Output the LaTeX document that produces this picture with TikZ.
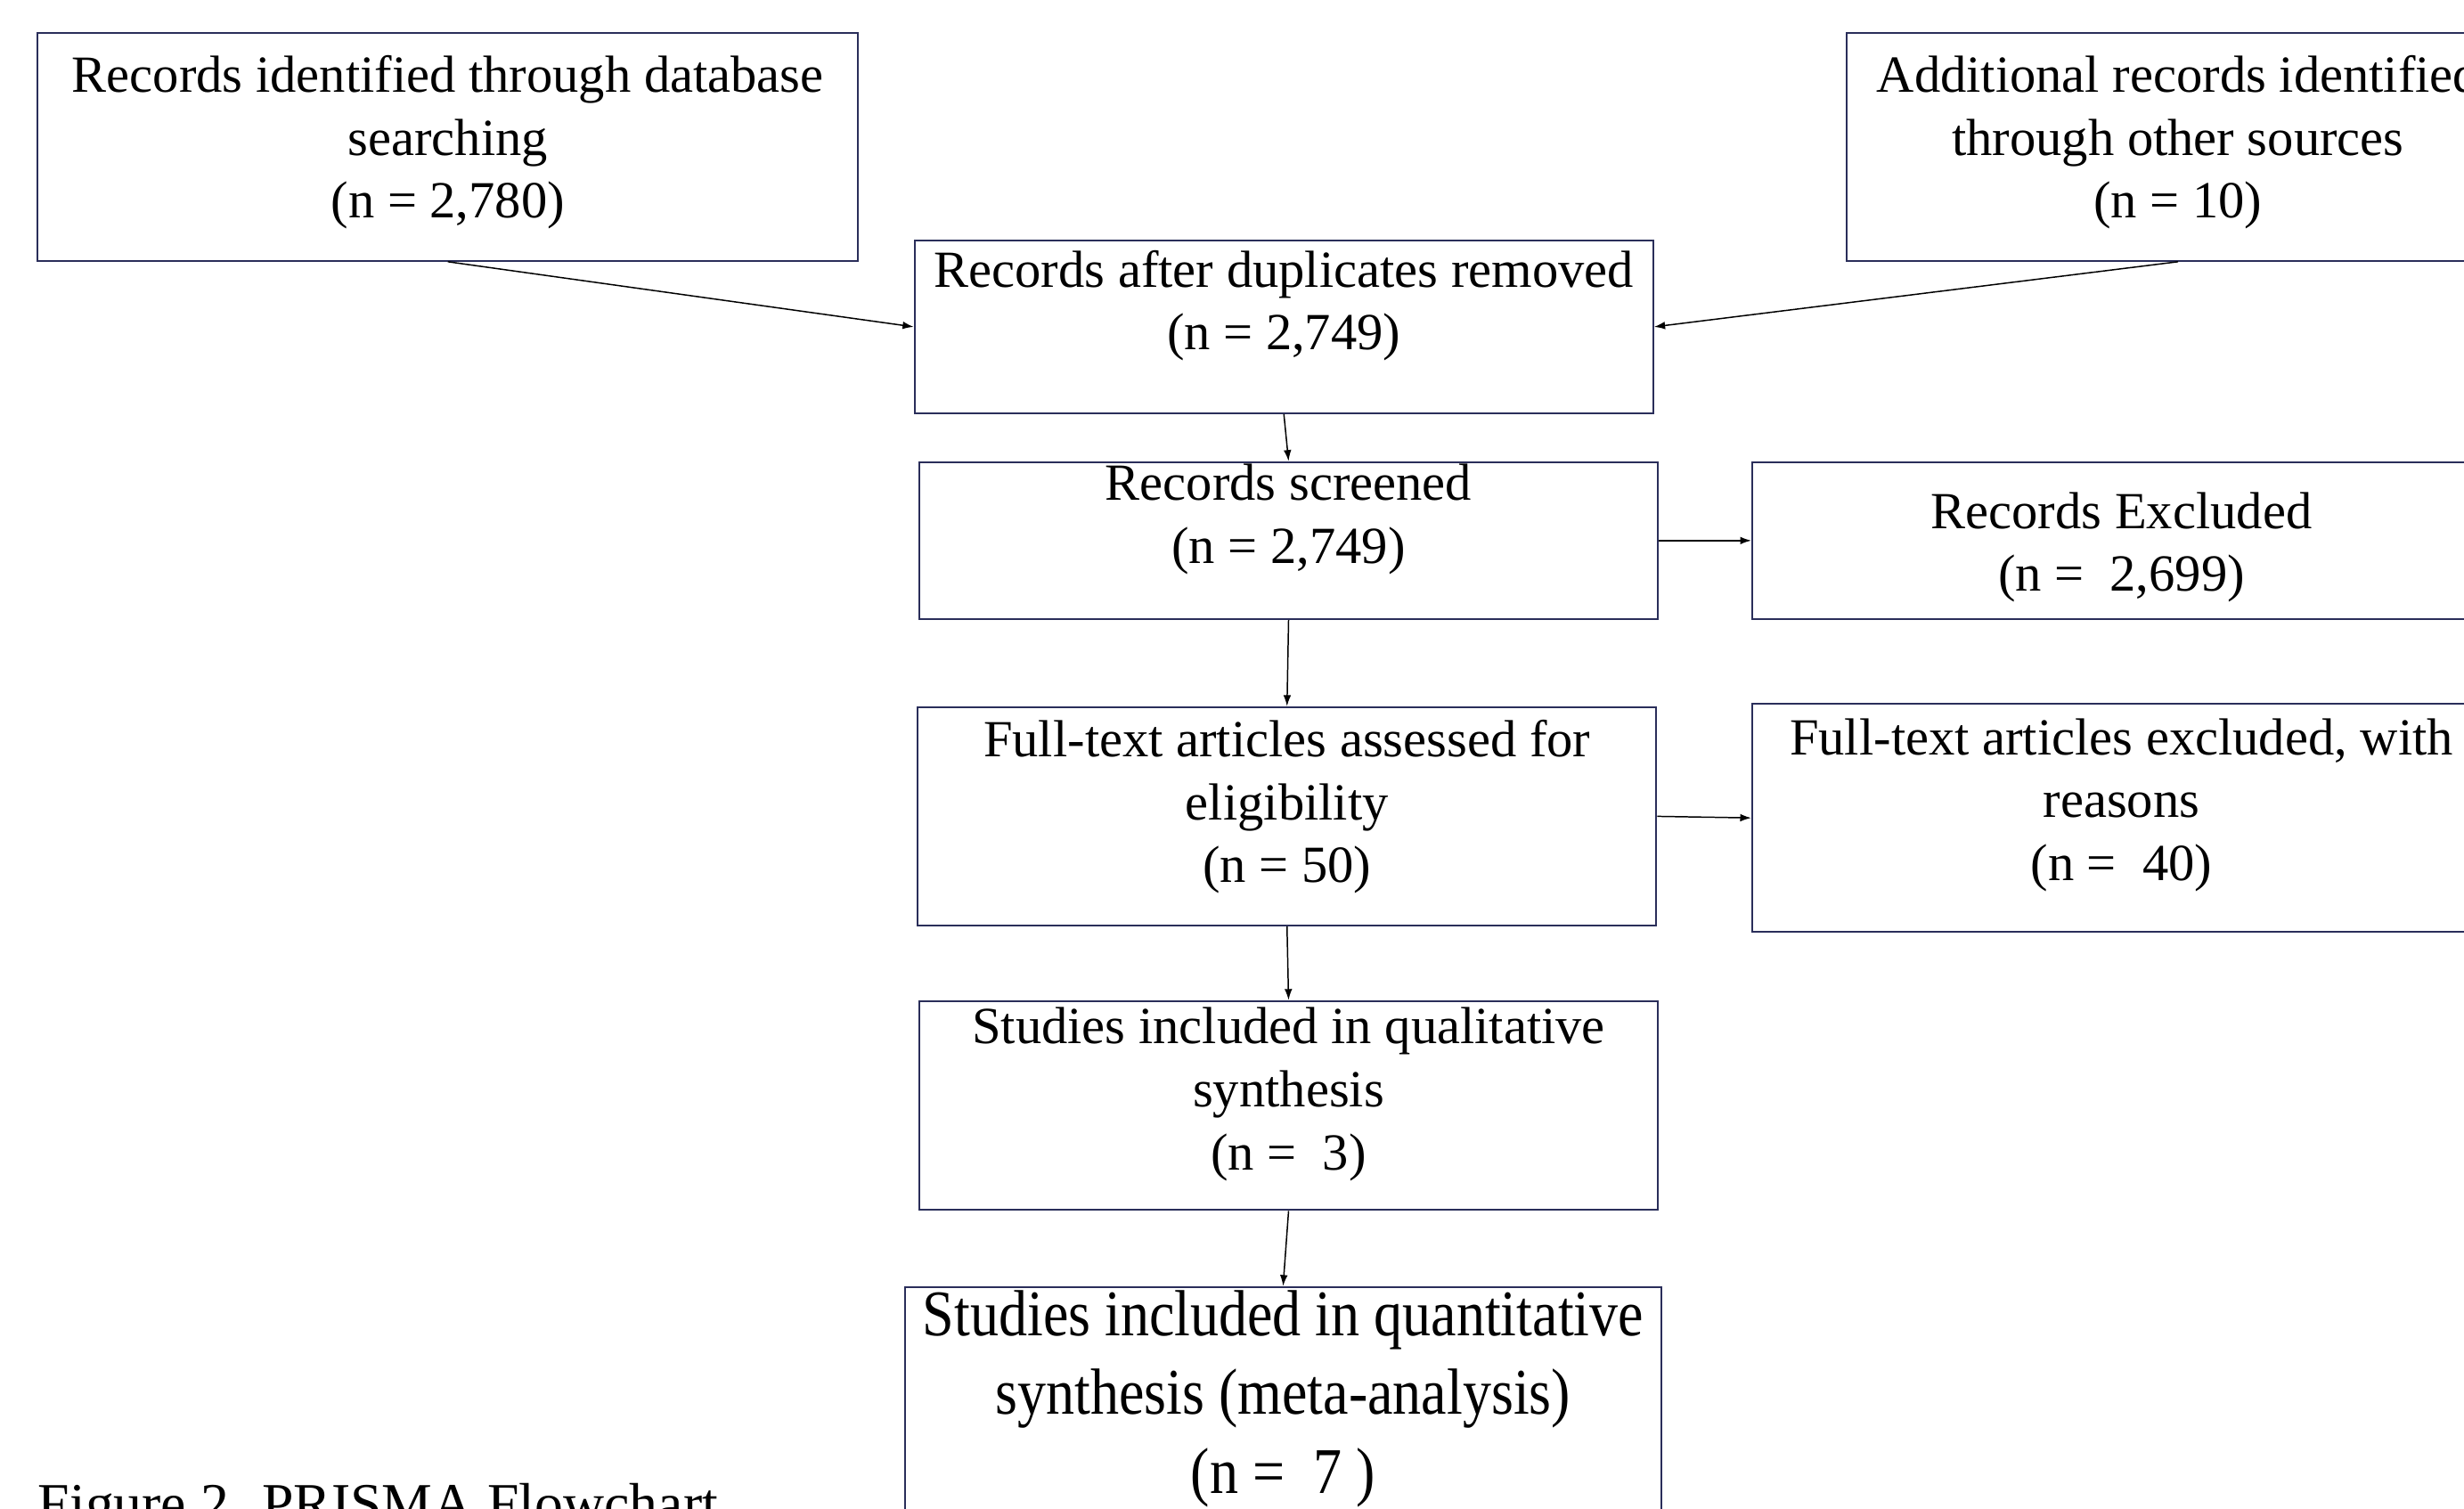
\documentclass[tikz,border=0pt]{standalone}
\usepackage{fontspec}
\setmainfont{Liberation Serif}
\newfontfamily\narrowserif{Liberation Serif}[FakeStretch=0.875]
\usepackage{tikz}
\usetikzlibrary{arrows.meta}

\definecolor{boxline}{RGB}{42,46,90}

\begin{document}
\begin{tikzpicture}[x=0.025cm,y=-0.025cm,
  box/.style={draw=boxline,line width=0.8pt,rectangle,inner sep=0pt},
  txt/.style={align=center,inner sep=0pt,anchor=north,font=\fontsize{23.6}{28.45}\selectfont},
  bigtxt/.style={align=center,inner sep=0pt,anchor=north,font=\narrowserif\fontsize{29.5}{35.6}\selectfont},
  flow/.style={-{Latex[length=5pt,width=3.5pt]},line width=0.6pt}]

  \useasboundingbox (0,0) rectangle (1568,960);
  \clip (0,0) rectangle (1568,960);

  % Identification
  \node[box,minimum width=522*0.025cm,minimum height=145*0.025cm] (db) at (285,93.5) {};
  \node[txt] (db-t) at (285,35) {Records identified through database\\searching\\(n = 2,780)};

  \node[box,minimum width=422*0.025cm,minimum height=145*0.025cm] (other) at (1386,93.5) {};
  \node[txt] (other-t) at (1386,35) {Additional records identified\\through other sources\\(n = 10)};

  % Duplicates
  \node[box,minimum width=470*0.025cm,minimum height=110*0.025cm] (dup) at (817,208) {};
  \node[txt] (dup-t) at (817,159) {Records after duplicates removed\\(n = 2,749)};

  % Screening
  \node[box,minimum width=470*0.025cm,minimum height=100*0.025cm] (screen) at (820,344) {};
  \node[txt] (screen-t) at (820,295) {Records screened\\(n = 2,749)};

  \node[box,minimum width=470*0.025cm,minimum height=100*0.025cm] (excl) at (1350,344) {};
  \node[txt] (excl-t) at (1350,313) {Records Excluded\\(n =\ \ 2,699)};

  % Eligibility
  \node[box,minimum width=470*0.025cm,minimum height=139*0.025cm] (full) at (819,519.5) {};
  \node[txt] (full-t) at (819,458) {Full-text articles assessed for\\eligibility\\(n = 50)};

  \node[box,minimum width=470*0.025cm,minimum height=145*0.025cm] (ftex) at (1350,520.5) {};
  \node[txt] (ftex-t) at (1350,457) {Full-text articles excluded, with\\reasons\\(n =\ \ 40)};

  % Included
  \node[box,minimum width=470*0.025cm,minimum height=133*0.025cm] (qual) at (820,703.5) {};
  \node[txt] (qual-t) at (820,641) {Studies included in qualitative\\synthesis\\(n =\ \ 3)};

  \node[box,minimum width=481*0.025cm,minimum height=171*0.025cm] (quant) at (816.5,904.5) {};
  \node[bigtxt] (quant-t) at (816.5,821) {Studies included in quantitative\\synthesis (meta-analysis)\\(n =\ \ 7 )};

  % Caption
  \node[anchor=base west,inner sep=0pt,font=\fontsize{25.7}{30}\selectfont] (cap) at (24,969) {Figure 2. PRISMA Flowchart};

  % Arrows
  \draw[flow] (db.south) -- (dup.west);
  \draw[flow] (other.south) -- (dup.east);
  \draw[flow] (dup.south) -- (screen.north);
  \draw[flow] (screen.east) -- (excl.west);
  \draw[flow] (screen.south) -- (full.north);
  \draw[flow] (full.east) -- (ftex.west);
  \draw[flow] (full.south) -- (qual.north);
  \draw[flow] (qual.south) -- (quant.north);

\end{tikzpicture}
\end{document}
